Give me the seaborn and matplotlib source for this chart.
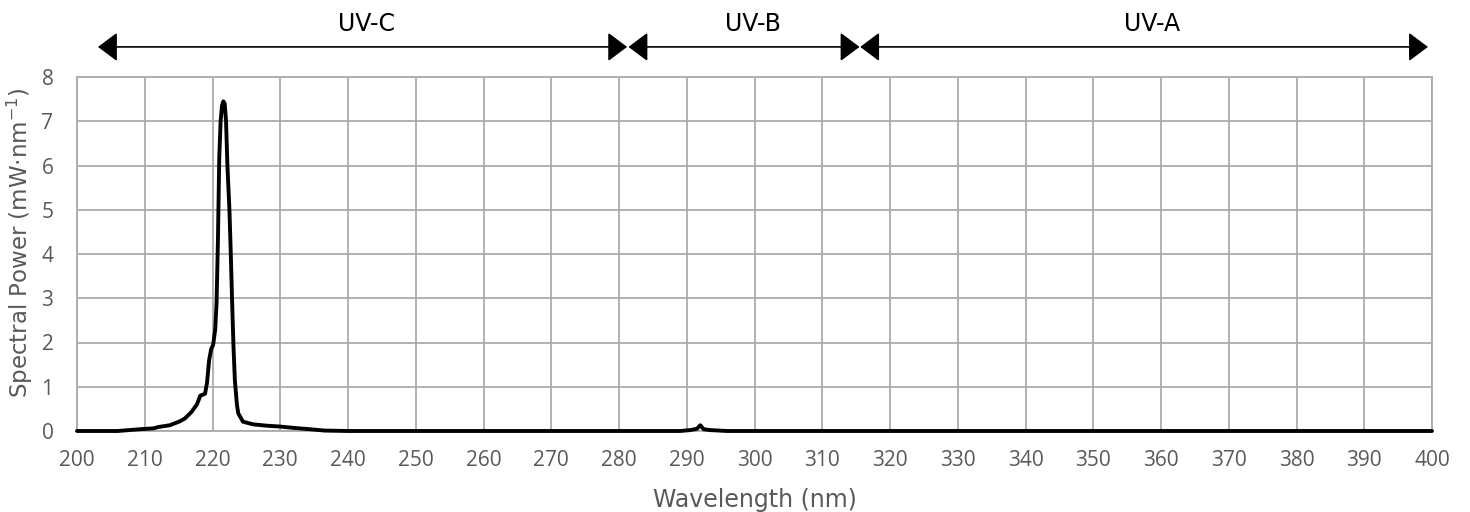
import matplotlib
matplotlib.use("Agg")
import matplotlib.pyplot as plt
import seaborn as sns
import pandas as pd

# ---- data ----
wavelength = [200, 206, 209.3, 211.3, 212.0, 213.7, 215.2, 215.9, 216.9, 217.7, 218.2,
              218.9, 219.2, 219.5, 219.8, 220.1, 220.4, 220.6, 220.8, 221.0, 221.2,
              221.4, 221.6, 221.8, 222.0, 222.2, 222.5, 222.7, 222.9, 223.1, 223.3,
              223.6, 223.8, 224.5, 226.0, 228.0, 230.0, 232.0, 234.4, 236.5, 240,
              289, 290.5, 291.5, 292.0, 292.5, 293.5, 296, 400]
power = [0.0, 0.0, 0.04, 0.06, 0.09, 0.13, 0.22, 0.28, 0.43, 0.60, 0.80,
         0.84, 1.10, 1.60, 1.85, 1.95, 2.30, 2.90, 4.30, 6.20, 7.00,
         7.35, 7.45, 7.40, 7.00, 6.00, 5.00, 4.00, 2.90, 1.90, 1.15,
         0.60, 0.40, 0.21, 0.15, 0.12, 0.10, 0.07, 0.04, 0.01, 0.0,
         0.0, 0.02, 0.05, 0.13, 0.04, 0.02, 0.0, 0.0]

bands = ["UV-C", "UV-B", "UV-A"]
band_start = [203.1, 281.4, 315.6]
band_end = [281.2, 315.5, 399.4]
band_label_x = [242.8, 299.8, 358.7]

x_ticks = list(range(200, 401, 10))
y_ticks = list(range(0, 9, 1))

# ---- style ----
sns.set_style("white")
plt.rcParams['font.family'] = ['DejaVu Sans']
plt.rcParams['mathtext.fontset'] = 'dejavusans'

fig = plt.figure(figsize=(14.7, 5.12), dpi=100)
ax = fig.add_axes([77 / 1470, (512 - 431) / 512, (1432 - 77) / 1470, (431 - 77) / 512])

df = pd.DataFrame({"Wavelength": wavelength, "Power": power})
grid_c = "#ababab"
ax.set_xlim(200, 400)
ax.set_ylim(0, 8)
ax.set_xticks(x_ticks)
ax.set_yticks(y_ticks)
ax.grid(True, color=grid_c, linewidth=1.3)
ax.set_axisbelow(True)
for s in ax.spines.values():
    s.set_color(grid_c)
    s.set_linewidth(1.3)

sns.lineplot(data=df, x="Wavelength", y="Power", ax=ax, color="black",
             linewidth=2.8, clip_on=False, zorder=5)

tick_font = ['Open Sans', 'DejaVu Sans']
ax.tick_params(axis='both', length=0, labelsize=15, labelcolor="#595959")
for lab in ax.get_xticklabels() + ax.get_yticklabels():
    lab.set_family(tick_font)
ax.tick_params(axis='x', pad=14)
ax.tick_params(axis='y', pad=17)
ax.set_xlabel("Wavelength (nm)", fontsize=17, color="#595959", labelpad=12)
ax.set_ylabel(r"Spectral Power (mW·nm$^{-1}$)", fontsize=16.5,
              color="#595959")
ax.yaxis.set_label_coords(-0.031, 0.53)

# ---- band arrows ----
arrow_y = 8.68
label_y = 9.2
for name, x0, x1, xl in zip(bands, band_start, band_end, band_label_x):
    ax.annotate("", xy=(x1, arrow_y), xytext=(x0, arrow_y), xycoords='data',
                annotation_clip=False,
                arrowprops=dict(arrowstyle="<|-|>,head_length=0.6,head_width=0.45",
                                mutation_scale=20, color="black", lw=1.2,
                                shrinkA=0, shrinkB=0))
    ax.text(xl, label_y, name, ha='center', va='center', fontsize=17,
            color="black", clip_on=False)

fig.savefig("out.png", dpi=100)
